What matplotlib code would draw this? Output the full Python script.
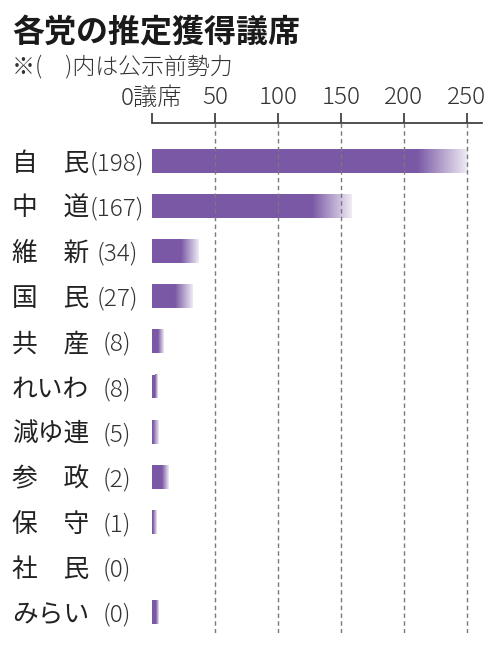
import numpy as np
import matplotlib
matplotlib.use("Agg")
import matplotlib.pyplot as plt
from matplotlib.transforms import blended_transform_factory
from matplotlib.colors import to_rgb

plt.rcParams['font.family'] = ['Noto Sans CJK JP', 'DejaVu Sans']

# ---- data ----
parties = ["自　民", "中　道", "維　新", "国　民", "共　産", "れいわ", "減ゆ連",
           "参　政", "保　守", "社　民", "みらい"]
prior_seats = [198, 167, 34, 27, 8, 8, 5, 2, 1, 0, 0]
est_low = [210, 127, 23, 18, 5, 2.5, 0.5, 8, 1, 0, 3]
est_high = [250, 158, 37, 32, 9, 4.5, 4.5, 13, 3.5, 0, 5]
ticks = [0, 50, 100, 150, 200, 250]
tick_labels = ["0議席", "50", "100", "150", "200", "250"]

title = "各党の推定獲得議席"
subtitle = "※(　)内は公示前勢力"

# ---- figure ----
W, H = 500, 646
fig = plt.figure(figsize=(W / 100, H / 100), dpi=100)
ax_left, ax_right, ax_top, ax_bottom = 152, 482, 123, 633
ax = fig.add_axes([ax_left / W, 1 - ax_bottom / H, (ax_right - ax_left) / W,
                   (ax_bottom - ax_top) / H])

purple = "#7a58a5"
rgb = np.array(to_rgb(purple))
bar_h = 0.53
n = len(parties)

for i in range(n):
    lo, hi = est_low[i], est_high[i]
    if hi <= 0:
        continue
    if lo > 0:
        ax.barh(i, lo, height=bar_h, color=purple, linewidth=0, zorder=2)
    if hi > lo:
        m = 64
        alpha = np.linspace(1.0, 0.12, m)
        img = np.zeros((1, m, 4))
        img[0, :, :3] = rgb
        img[0, :, 3] = alpha
        ax.imshow(img, extent=(lo, hi, i + bar_h / 2, i - bar_h / 2),
                  aspect='auto', interpolation='bilinear', zorder=2)

# gridlines (dashed) in front of bars
for t in ticks[1:]:
    ax.axvline(t, color="#7a7a7a", linewidth=1.0, linestyle=(0, (3.2, 2.4)), zorder=3)

ax.set_xlim(0, (ax_right - ax_left) / 1.26)
ax.set_ylim(n - 1 + 0.466, -0.843)

for s in ["bottom", "left", "right"]:
    ax.spines[s].set_visible(False)
ax.spines["top"].set_color("#333333")
ax.spines["top"].set_linewidth(1.2)
ax.xaxis.tick_top()
ax.set_xticks(ticks)
ax.set_xticklabels(tick_labels, fontweight="light")
ax.tick_params(axis='x', direction='out', length=7, width=1.2, color="#333333",
               labelsize=17.5, labelcolor="#333333", pad=2)
ax.set_yticks([])
ax.set_facecolor("none")

# row labels
tr = blended_transform_factory(fig.transFigure, ax.transData)
for i in range(n):
    ax.text(12 / W, i, parties[i], transform=tr, ha="left", va="center_baseline",
            fontsize=18.5, color="#222222")
    ax.text(117 / W, i, f"({prior_seats[i]})", transform=tr, ha="center",
            va="center_baseline", fontsize=17.5, fontweight="light", color="#333333")

fig.text(12 / W, 1 - 29 / H, title, fontsize=23, fontweight="bold",
         color="#1a1a1a", ha="left", va="center_baseline")
fig.text(12 / W, 1 - 64 / H, subtitle, fontsize=16.5, fontweight="light",
         color="#333333", ha="left", va="center_baseline")

fig.savefig("out.png", dpi=100, facecolor="white")
